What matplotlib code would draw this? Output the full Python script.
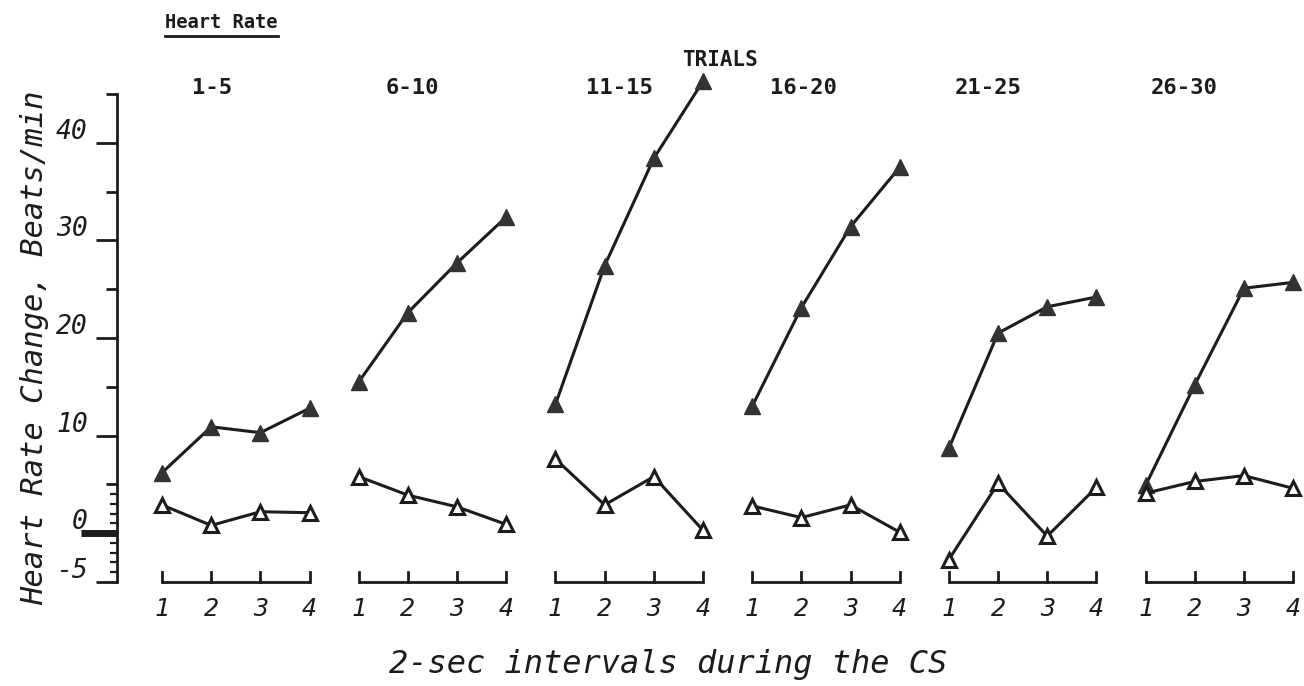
import numpy as np
import matplotlib
matplotlib.use('Agg')
import matplotlib.pyplot as plt
from matplotlib.lines import Line2D
from matplotlib.transforms import ScaledTranslation, blended_transform_factory

# 2-sec intervals within the CS, and the blocks of trials
intervals = [1, 2, 3, 4]
trial_blocks = ['1-5', '6-10', '11-15', '16-20', '21-25', '26-30']

# heart rate change (beats/min), filled triangles
cs_plus = [
    [6.2, 10.9, 10.3, 12.8],
    [15.5, 22.6, 27.7, 32.4],
    [13.2, 27.4, 38.4, 46.3],
    [13.0, 23.1, 31.4, 37.5],
    [8.7, 20.5, 23.2, 24.2],
    [4.9, 15.2, 25.1, 25.7],
]
# heart rate change (beats/min), open triangles
cs_minus = [
    [2.9, 0.8, 2.2, 2.1],
    [5.8, 3.9, 2.7, 0.9],
    [7.6, 2.9, 5.8, 0.3],
    [2.8, 1.6, 2.9, 0.1],
    [-2.7, 5.1, -0.3, 4.7],
    [4.1, 5.3, 5.9, 4.6],
]

y_ticks = [-5, 0, 10, 20, 30, 40]
y_ticklabels = ['-5', '0', '10', '20', '30', '40']
y_half = [5, 15, 25, 35, 45]
y_units = [-4, -3, -2, -1, 1, 2, 3, 4]

mono = 'DejaVu Sans Mono'
ink = '#1c1c1c'

# where each block heading sits, measured from the block's first interval
heading_dx = [1.02, 1.1, 1.3, 1.04, 0.8, 0.78]

fig = plt.figure(figsize=(13.04, 6.86), dpi=100)
ax = fig.add_axes([117 / 1304, 104 / 686, 1183 / 1304, 488 / 686])
ax.set_xlim(-0.915, 23.14)
ax.set_ylim(-5, 45)

for s in ['top', 'right', 'bottom']:
    ax.spines[s].set_visible(False)
ax.spines['left'].set_linewidth(2.0)
ax.spines['left'].set_color(ink)

step = len(intervals)
label_tr = blended_transform_factory(ax.transData, fig.transFigure)
xpos = []
for p, block in enumerate(trial_blocks):
    x = np.array(intervals) - 1 + p * step
    xpos.extend(x)
    ax.plot(x, cs_plus[p], color=ink, lw=2.2, marker='^', ms=12,
            mfc='#333333', mec='#333333', clip_on=False, zorder=3)
    ax.plot(x, cs_minus[p], color=ink, lw=2.2, marker='^', ms=10,
            mfc='white', mec=ink, mew=2.2, clip_on=False, zorder=4)
    # small bracket axis under each block
    ax.plot([x[0], x[-1]], [-5, -5], color=ink, lw=2.0, clip_on=False,
            solid_capstyle='butt')
    for xi in x:
        ax.plot([xi, xi], [-5, -4], color=ink, lw=2.0, clip_on=False)
    ax.text(x[0] + heading_dx[p], 1 - 88 / 686, block, transform=label_tr,
            ha='center', va='center', fontsize=16, family=mono,
            fontweight='bold', color=ink)

ax.set_xticks(xpos, [str(i) for i in intervals] * len(trial_blocks))
ax.tick_params(axis='x', length=0, pad=11, labelsize=18)
for lab in ax.get_xticklabels():
    lab.set_family(mono)
    lab.set_style('italic')
    lab.set_color(ink)

ax.set_yticks(y_ticks, y_ticklabels)
ax.set_yticks(y_half + y_units, minor=True)
ax.tick_params(axis='y', which='major', direction='out', length=15,
               width=2.0, color=ink, pad=6, labelsize=19)
ax.tick_params(axis='y', which='minor', direction='out', length=5,
               width=1.6, color=ink)
for loc, tick in zip(y_half + y_units, ax.yaxis.get_minor_ticks()):
    if loc in y_half:
        tick.tick1line.set_markersize(8)
        tick.tick1line.set_markeredgewidth(2.0)
zero_tick = ax.yaxis.get_major_ticks()[y_ticks.index(0)]
zero_tick.tick1line.set_markersize(26)
zero_tick.tick1line.set_markeredgewidth(5)

lift = ScaledTranslation(0, 14 / 100, fig.dpi_scale_trans)
for lab in ax.get_yticklabels():
    lab.set_family(mono)
    lab.set_style('italic')
    lab.set_color(ink)
    lab.set_transform(lab.get_transform() + lift)

fig.text(720 / 1304, 1 - 60 / 686, 'TRIALS', ha='center', va='center',
         fontsize=15, family=mono, fontweight='bold', color=ink)
title = fig.text(165 / 1304, 1 - 22 / 686, 'Heart Rate', ha='left',
                 va='center', fontsize=13.5, family=mono,
                 fontweight='bold', color=ink)
fig.text(35 / 1304, 1 - 348 / 686, 'Heart Rate Change, Beats/min',
         rotation=90, ha='center', va='center', fontsize=22, family=mono,
         style='italic', color=ink)
fig.text(668 / 1304, 1 - 665 / 686, '2-sec intervals during the CS',
         ha='center', va='center', fontsize=23, family=mono,
         style='italic', color=ink)

# underline the title
fig.canvas.draw()
bb = title.get_window_extent()
uy = bb.y0 - 4
fig.add_artist(Line2D([bb.x0 / 1304, bb.x1 / 1304], [uy / 686, uy / 686],
                      color=ink, lw=2.0, transform=fig.transFigure))

fig.savefig('out.png', dpi=100)
